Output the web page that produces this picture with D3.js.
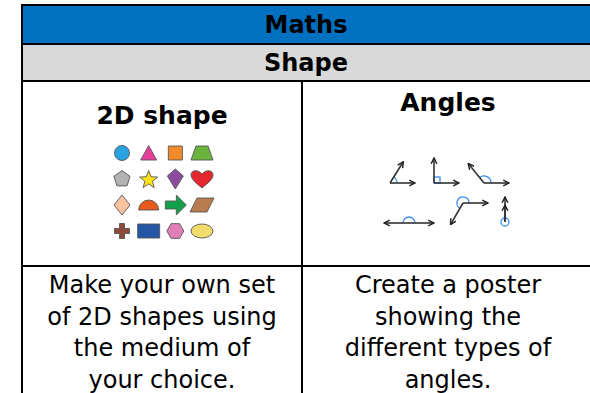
<!DOCTYPE html>
<meta charset="utf-8">
<style>
body { margin: 0; background: #fff; }
svg { display: block; }
text { font-family: "DejaVu Sans", sans-serif; fill: #000; }
.head { font-weight: bold; }
</style>
<svg width="590" height="393"></svg>
<script src="https://cdn.jsdelivr.net/npm/d3@7"></script>
<script>

// table text
var title = "Maths";
var topic = "Shape";
var columns = ["2D shape", "Angles"];
var tasks = [
  ["Make your own set", "of 2D shapes using", "the medium of", "your choice."],
  ["Create a poster", "showing the", "different types of", "angles."]
];

// 2D shapes, read row by row
var shapeTypes = ["circle", "triangle", "square", "trapezoid",
                  "pentagon", "star", "kite", "heart",
                  "diamond", "semicircle", "arrow", "parallelogram",
                  "cross", "rectangle", "hexagon", "ellipse"];
var shapeColours = ["#29a3e0", "#e8409a", "#f38b2a", "#6ab43e",
                    "#b3b3b3", "#ffe11a", "#8e4b9e", "#e3272d",
                    "#f9c3a0", "#e85a1c", "#14a04a", "#b97c4f",
                    "#8b4a3a", "#2456a5", "#e07fb6", "#f2dc6b"];

// angles shown (degrees between the arms)
var angleDegrees = [58, 90, 129, 180, 240, 360];

var svg = d3.select("svg");

var tableX = d3.scaleLinear().domain([0, 1, 2]).range([22, 302, 594]);
var rowY = [5, 44, 81, 266, 420];

// title bars
svg.append("rect").attr("x", 22).attr("y", rowY[0]).attr("width", 580).attr("height", rowY[1] - rowY[0]).attr("fill", "#0070c0");
svg.append("rect").attr("x", 22).attr("y", rowY[1]).attr("width", 580).attr("height", rowY[2] - rowY[1]).attr("fill", "#d9d9d9");

svg.append("text").attr("class", "head").attr("x", 306).attr("y", 33)
  .attr("text-anchor", "middle").style("font-size", "24px").text(title);
svg.append("text").attr("class", "head").attr("x", 306).attr("y", 71)
  .attr("text-anchor", "middle").style("font-size", "24px").text(topic);

// column headings
var headY = [124, 111];
svg.selectAll(".colhead").data(columns).enter().append("text")
  .attr("class", "head colhead")
  .attr("x", function(d, i) { return (tableX(i) + tableX(i + 1)) / 2; })
  .attr("y", function(d, i) { return headY[i]; })
  .attr("text-anchor", "middle").style("font-size", "25px")
  .text(function(d) { return d; });

// task text
var lineY = d3.scaleLinear().domain([0, 1]).range([293, 324.5]);
tasks.forEach(function(lines, c) {
  svg.selectAll(".task" + c).data(lines).enter().append("text")
    .attr("class", "task" + c)
    .attr("x", (tableX(c) + tableX(c + 1)) / 2)
    .attr("y", function(d, i) { return lineY(i); })
    .attr("text-anchor", "middle").style("font-size", "24px")
    .text(function(d) { return d; });
});

// shape grid
var gx = d3.scalePoint().domain([0, 1, 2, 3]).range([122, 202]);
var gy = d3.scalePoint().domain([0, 1, 2, 3]).range([153, 231]);

function shapePath(t) {
  var p = d3.path();
  function poly(pts) {
    pts.forEach(function(q, i) { if (i) p.lineTo(q[0], q[1]); else p.moveTo(q[0], q[1]); });
    p.closePath();
  }
  function regular(n, r, rot) {
    return d3.range(n).map(function(i) {
      var a = rot + i * 2 * Math.PI / n;
      return [r * Math.cos(a), r * Math.sin(a)];
    });
  }
  switch (t) {
    case "circle": p.arc(0, 0, 7.5, 0, 2 * Math.PI); break;
    case "triangle": poly([[0, -7.5], [8, 7], [-8, 7]]); break;
    case "square": poly([[-7, -7], [7, -7], [7, 7], [-7, 7]]); break;
    case "trapezoid": poly([[-6, -7], [6, -7], [11, 7], [-11, 7]]); break;
    case "pentagon": poly(regular(5, 8.5, -Math.PI / 2)); break;
    case "star":
      poly(d3.range(10).map(function(i) {
        var r = i % 2 ? 4 : 9.5, a = -Math.PI / 2 + i * Math.PI / 5;
        return [r * Math.cos(a), r * Math.sin(a) + 1];
      }));
      break;
    case "kite": poly([[0, -10], [8, -3], [0, 10], [-8, -3]]); break;
    case "heart":
      p.moveTo(0, 9);
      p.bezierCurveTo(-6, 4, -11, 0, -11, -4);
      p.bezierCurveTo(-11, -9, -4, -10, 0, -5);
      p.bezierCurveTo(4, -10, 11, -9, 11, -4);
      p.bezierCurveTo(11, 0, 6, 4, 0, 9);
      p.closePath();
      break;
    case "diamond": poly([[0, -10], [8, 0], [0, 10], [-8, 0]]); break;
    case "semicircle": p.moveTo(-10, 5); p.arc(0, 5, 10, Math.PI, 2 * Math.PI); p.closePath(); break;
    case "arrow": poly([[-10, -4], [1, -4], [1, -10], [11, 0], [1, 10], [1, 4], [-10, 4]]); break;
    case "parallelogram": poly([[-5, -7], [12, -7], [5, 7], [-12, 7]]); break;
    case "cross": poly([[-2.5, -7.5], [2.5, -7.5], [2.5, -2.5], [7.5, -2.5], [7.5, 2.5], [2.5, 2.5], [2.5, 7.5], [-2.5, 7.5], [-2.5, 2.5], [-7.5, 2.5], [-7.5, -2.5], [-2.5, -2.5]]); break;
    case "rectangle": poly([[-11, -7], [11, -7], [11, 7], [-11, 7]]); break;
    case "hexagon": poly(regular(6, 8.5, 0)); break;
  }
  return p.toString();
}

svg.selectAll(".shape").data(shapeTypes).enter().append("g")
  .attr("class", "shape")
  .attr("transform", function(d, i) { return "translate(" + gx(i % 4) + "," + gy(Math.floor(i / 4)) + ")"; })
  .each(function(d, i) {
    var g = d3.select(this);
    if (d === "ellipse") {
      g.append("ellipse").attr("rx", 11).attr("ry", 7);
    } else {
      g.append("path").attr("d", shapePath(d));
    }
    g.select("*").attr("fill", shapeColours[i]).attr("stroke", "#555").attr("stroke-width", 0.9).attr("stroke-linejoin", "round");
  });

// angles
var defs = svg.append("defs");
defs.append("marker").attr("id", "arr").attr("viewBox", "0 0 10 10")
  .attr("refX", 9).attr("refY", 5).attr("markerWidth", 4.5).attr("markerHeight", 4.5)
  .attr("orient", "auto")
  .append("path").attr("d", "M1,1 L9,5 L1,9").attr("fill", "none").attr("stroke", "#222").attr("stroke-width", 2);

var angleX = [390, 434, 484, 409, 463, 505];
var angleY = [183, 183, 183, 223, 203, 222];
var armLen = d3.scaleLinear().domain([0, 1]).range([0, 25]);
var blue = "#3d8ff0";

var ag = svg.selectAll(".angle").data(angleDegrees).enter().append("g")
  .attr("class", "angle")
  .attr("transform", function(d, i) { return "translate(" + angleX[i] + "," + angleY[i] + ")"; });

ag.each(function(deg, i) {
  var g = d3.select(this);
  var rad = deg * Math.PI / 180;
  var L = armLen(1);
  function arm(a, len) {
    g.append("line").attr("x1", 0).attr("y1", 0)
      .attr("x2", len * Math.cos(a)).attr("y2", -len * Math.sin(a))
      .attr("stroke", "#333").attr("stroke-width", 1.6).attr("marker-end", "url(#arr)");
  }
  if (deg === 180) {
    g.append("path").attr("d", d3.arc().innerRadius(6).outerRadius(6).startAngle(-Math.PI / 2).endAngle(Math.PI / 2)())
      .attr("fill", "none").attr("stroke", blue).attr("stroke-width", 1.3);
    arm(0, L); arm(Math.PI, L);
  } else if (deg === 360) {
    g.append("circle").attr("r", 4).attr("fill", "none").attr("stroke", blue).attr("stroke-width", 1.3);
    arm(Math.PI / 2, L);
    arm(Math.PI / 2, L - 8);
  } else if (deg === 90) {
    g.append("rect").attr("x", 0).attr("y", -6).attr("width", 6).attr("height", 6)
      .attr("fill", "none").attr("stroke", blue).attr("stroke-width", 1.3);
    arm(0, L); arm(rad, L);
  } else {
    var r = deg > 180 ? 6 : 7;
    // d3.arc angles run clockwise from 12 o'clock
    g.append("path").attr("d", d3.arc().innerRadius(r).outerRadius(r)
        .startAngle(Math.PI / 2 - rad).endAngle(Math.PI / 2)())
      .attr("fill", "none").attr("stroke", blue).attr("stroke-width", 1.3);
    arm(0, L); arm(rad, L);
  }
});

// grid lines
var lineColour = "#000";
svg.append("rect").attr("x", 22).attr("y", 5).attr("width", 580).attr("height", 420)
  .attr("fill", "none").attr("stroke", lineColour).attr("stroke-width", 2);
[rowY[1], rowY[2], rowY[3]].forEach(function(y) {
  svg.append("line").attr("x1", 22).attr("x2", 594).attr("y1", y).attr("y2", y)
    .attr("stroke", lineColour).attr("stroke-width", 2);
});
svg.append("line").attr("x1", tableX(1)).attr("x2", tableX(1)).attr("y1", rowY[2]).attr("y2", 393)
  .attr("stroke", lineColour).attr("stroke-width", 2);

</script>
